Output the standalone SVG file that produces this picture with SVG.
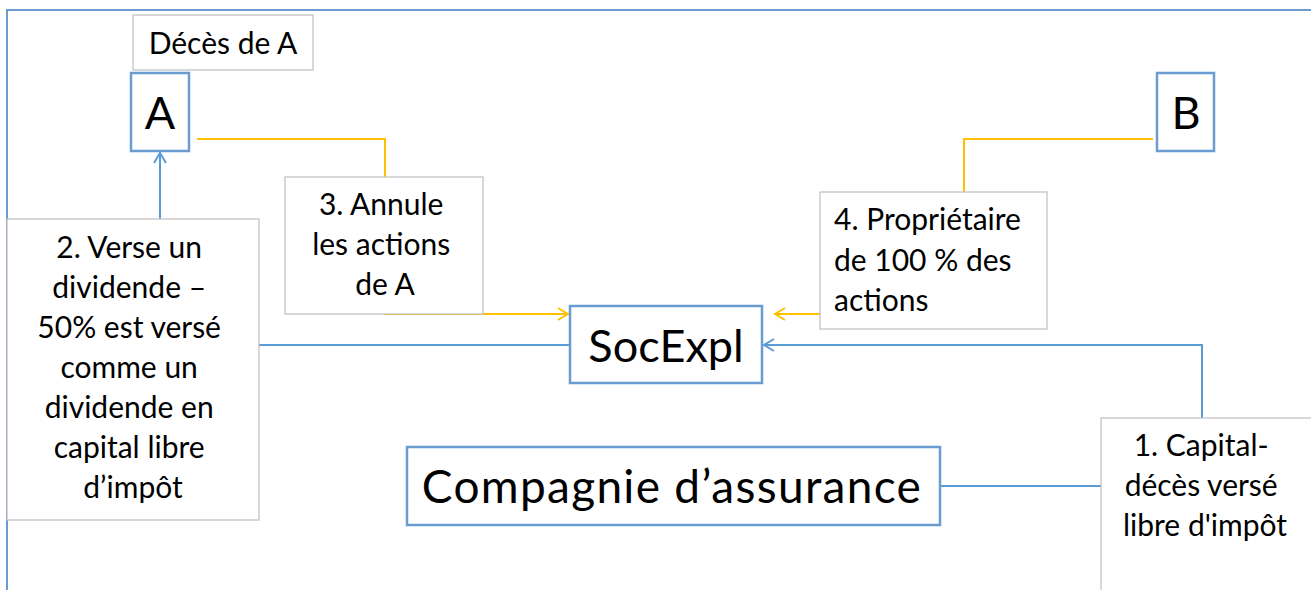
<svg xmlns="http://www.w3.org/2000/svg" width="1311" height="590" viewBox="0 0 1311 590">
<defs>
<style>
.t{font-family:Lato,"Open Sans","Liberation Sans",sans-serif;fill:#000}
.s{font-size:30px}
.b{font-size:45px}
.node{fill:#fff;stroke:#6A9BD1;stroke-width:2.5}
.lbl{fill:#fff;stroke:#BFBFBF;stroke-width:1.2}
.cb{fill:none;stroke:#5B9BD5;stroke-width:2}
.cy{fill:none;stroke:#FFC000;stroke-width:2}
</style>
<marker id="ab" markerWidth="14" markerHeight="14" refX="11" refY="7" orient="auto" markerUnits="userSpaceOnUse">
<path d="M1,1 L11,7 L1,13" fill="none" stroke="#5B9BD5" stroke-width="2"/>
</marker>
<marker id="ay" markerWidth="14" markerHeight="14" refX="11" refY="7" orient="auto" markerUnits="userSpaceOnUse">
<path d="M1,1 L11,7 L1,13" fill="none" stroke="#FFC000" stroke-width="2"/>
</marker>
</defs>
<rect width="1311" height="590" fill="#fff"/>
<path d="M7,600 L7,10 L1320,10" fill="none" stroke="#6A9BD1" stroke-width="2"/>
<g id="connectors">
<path class="cb" d="M570,345 L160,345 L160,153" marker-end="url(#ab)"/>
<path class="cy" d="M197,139 L385,139 L385,314 L568,314" marker-end="url(#ay)"/>
<path class="cy" d="M1153,139 L964,139 L964,314 L775,314" marker-end="url(#ay)"/>
<path class="cb" d="M940,486 L1202,486 L1202,345 L764,345" marker-end="url(#ab)"/>
</g>
<g id="label-deces">
<rect class="lbl" x="133" y="15" width="180" height="55"/>
<text class="t s" x="223" y="54" text-anchor="middle">Décès de A</text>
</g>
<g id="node-A">
<rect class="node" x="131" y="73" width="58" height="78"/>
<text class="t b" x="160" y="129" text-anchor="middle">A</text>
</g>
<g id="node-B">
<rect class="node" x="1157" y="73" width="57" height="78"/>
<text class="t b" x="1186" y="129" text-anchor="middle">B</text>
</g>
<g id="label-2">
<rect class="lbl" x="7" y="219" width="252" height="301"/>
<text class="t s" text-anchor="middle">
<tspan x="133" y="258">2. Verse un</tspan>
<tspan x="133" y="298">dividende –</tspan>
<tspan x="133" y="338">50% est versé</tspan>
<tspan x="133" y="378">comme un</tspan>
<tspan x="133" y="418">dividende en</tspan>
<tspan x="133" y="458">capital libre</tspan>
<tspan x="133" y="498">d’impôt</tspan>
</text>
</g>
<g id="label-3">
<rect class="lbl" x="285" y="177" width="198" height="137"/>
<text class="t s" text-anchor="middle">
<tspan x="385" y="215">3. Annule</tspan>
<tspan x="385" y="255">les actions</tspan>
<tspan x="385" y="295">de A</tspan>
</text>
</g>
<g id="label-4">
<rect class="lbl" x="820" y="192" width="227" height="137"/>
<text class="t s">
<tspan x="834" y="230">4. Propriétaire</tspan>
<tspan x="834" y="271">de 100 % des</tspan>
<tspan x="834" y="311">actions</tspan>
</text>
</g>
<g id="node-SocExpl">
<rect class="node" x="570" y="306" width="192" height="77"/>
<text class="t b" x="666" y="362" text-anchor="middle">SocExpl</text>
</g>
<g id="node-Compagnie">
<rect class="node" x="407" y="447" width="533" height="78"/>
<text class="t b" x="672" y="503" text-anchor="middle" style="font-size:46px;letter-spacing:1.3px">Compagnie d’assurance</text>
</g>
<g id="label-1">
<rect class="lbl" x="1101" y="418" width="220" height="190"/>
<text class="t s" text-anchor="middle">
<tspan x="1205" y="456">1. Capital-</tspan>
<tspan x="1205" y="496">décès versé</tspan>
<tspan x="1205" y="536">libre d'impôt</tspan>
</text>
</g>
</svg>
